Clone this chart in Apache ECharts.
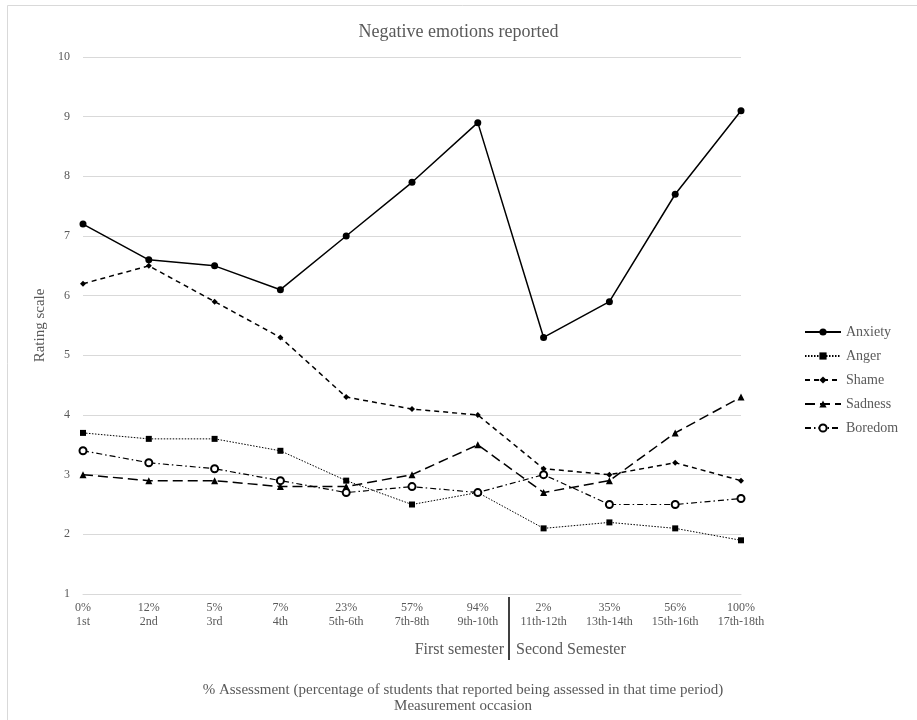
<!DOCTYPE html>
<html>
<head>
<meta charset="utf-8">
<script src="https://cdn.jsdelivr.net/npm/echarts@6/dist/echarts.min.js"></script>
<style>html,body{margin:0;padding:0;background:#fff}#c{width:917px;height:720px}</style>
</head>
<body>
<div id="c"></div>
<script>
const percentLabels = ['0%','12%','5%','7%','23%','57%','94%','2%','35%','56%','100%'];
const occasionLabels = ['1st','2nd','3rd','4th','5th-6th','7th-8th','9th-10th','11th-12th','13th-14th','15th-16th','17th-18th'];
const anxiety = [7.2, 6.6, 6.5, 6.1, 7.0, 7.9, 8.9, 5.3, 5.9, 7.7, 9.1];
const anger   = [3.7, 3.6, 3.6, 3.4, 2.9, 2.5, 2.7, 2.1, 2.2, 2.1, 1.9];
const shame   = [6.2, 6.5, 5.9, 5.3, 4.3, 4.1, 4.0, 3.1, 3.0, 3.2, 2.9];
const sadness = [3.0, 2.9, 2.9, 2.8, 2.8, 3.0, 3.5, 2.7, 2.9, 3.7, 4.3];
const boredom = [3.4, 3.2, 3.1, 2.9, 2.7, 2.8, 2.7, 3.0, 2.5, 2.5, 2.6];

const categories = percentLabels.map((p, i) => p + '\n' + occasionLabels[i]);
const FONT = "'Liberation Serif','Times New Roman',serif";
const TXT = '#595959';

const chart = echarts.init(document.getElementById('c'));
chart.setOption({
  animation: false,
  backgroundColor: '#fff',
  textStyle: { fontFamily: FONT },
  title: {
    text: 'Negative emotions reported',
    left: 'center', top: 18,
    textStyle: { fontFamily: FONT, fontSize: 18, fontWeight: 'normal', color: TXT }
  },
  grid: { left: 83, right: 176, top: 57, bottom: 126 },
  legend: {
    orient: 'vertical', left: 799, top: 320, itemGap: 10,
    itemWidth: 36, itemHeight: 9,
    textStyle: { fontFamily: FONT, fontSize: 14, color: TXT },
    data: ['Anxiety','Anger','Shame','Sadness','Boredom']
  },
  xAxis: {
    type: 'category', data: categories, boundaryGap: false,
    axisLine: { show: true, lineStyle: { color: '#d9d9d9', width: 1 } },
    axisTick: { show: false },
    axisLabel: { interval: 0, margin: 7, fontFamily: FONT, fontSize: 12, lineHeight: 14, color: TXT }
  },
  yAxis: {
    type: 'value', min: 1, max: 10, interval: 1,
    name: 'Rating scale', nameLocation: 'middle', nameGap: 34,
    nameTextStyle: { fontFamily: FONT, fontSize: 15, color: TXT },
    axisLine: { show: false }, axisTick: { show: false },
    axisLabel: { margin: 13, fontFamily: FONT, fontSize: 12, color: TXT },
    splitLine: { lineStyle: { color: '#d9d9d9', width: 1 } }
  },
  series: [
    { name: 'Anxiety', type: 'line', data: anxiety, symbol: 'circle', symbolSize: 7,
      lineStyle: { color: '#000', width: 1.5, type: 'solid' }, itemStyle: { color: '#000' } },
    { name: 'Anger', type: 'line', data: anger, symbol: 'rect', symbolSize: 6,
      lineStyle: { color: '#000', width: 1, type: [1.5, 1.5] }, itemStyle: { color: '#000' } },
    { name: 'Shame', type: 'line', data: shame, symbol: 'diamond', symbolSize: [6, 6],
      lineStyle: { color: '#000', width: 1.5, type: [5, 4] }, itemStyle: { color: '#000' } },
    { name: 'Sadness', type: 'line', data: sadness, symbol: 'triangle', symbolSize: 7,
      lineStyle: { color: '#000', width: 1.5, type: [10, 5] }, itemStyle: { color: '#000' } },
    { name: 'Boredom', type: 'line', data: boredom, symbol: 'emptyCircle', symbolSize: 7,
      lineStyle: { color: '#000', width: 1.2, type: [6, 3, 1.5, 3] }, itemStyle: { color: '#000', borderWidth: 1.5 } }
  ],
  graphic: [
    { type: 'rect', shape: { x: 7.5, y: 5.5, width: 1000, height: 1000 }, style: { fill: 'none', stroke: '#d9d9d9', lineWidth: 1 }, silent: true },
    { type: 'line', shape: { x1: 509, y1: 597, x2: 509, y2: 660 }, style: { stroke: '#404040', lineWidth: 2 } },
    { type: 'text', x: 504, y: 650, style: { text: 'First semester', font: '16px ' + FONT, fill: TXT, align: 'right', verticalAlign: 'middle' } },
    { type: 'text', x: 516, y: 650, style: { text: 'Second Semester', font: '16px ' + FONT, fill: TXT, align: 'left', verticalAlign: 'middle' } },
    { type: 'text', x: 463, y: 690, style: { text: '% Assessment (percentage of students that reported being assessed in that time period)', font: '15px ' + FONT, fill: TXT, align: 'center', verticalAlign: 'middle' } },
    { type: 'text', x: 463, y: 706, style: { text: 'Measurement occasion', font: '15px ' + FONT, fill: TXT, align: 'center', verticalAlign: 'middle' } }
  ]
});
</script>
</body>
</html>
